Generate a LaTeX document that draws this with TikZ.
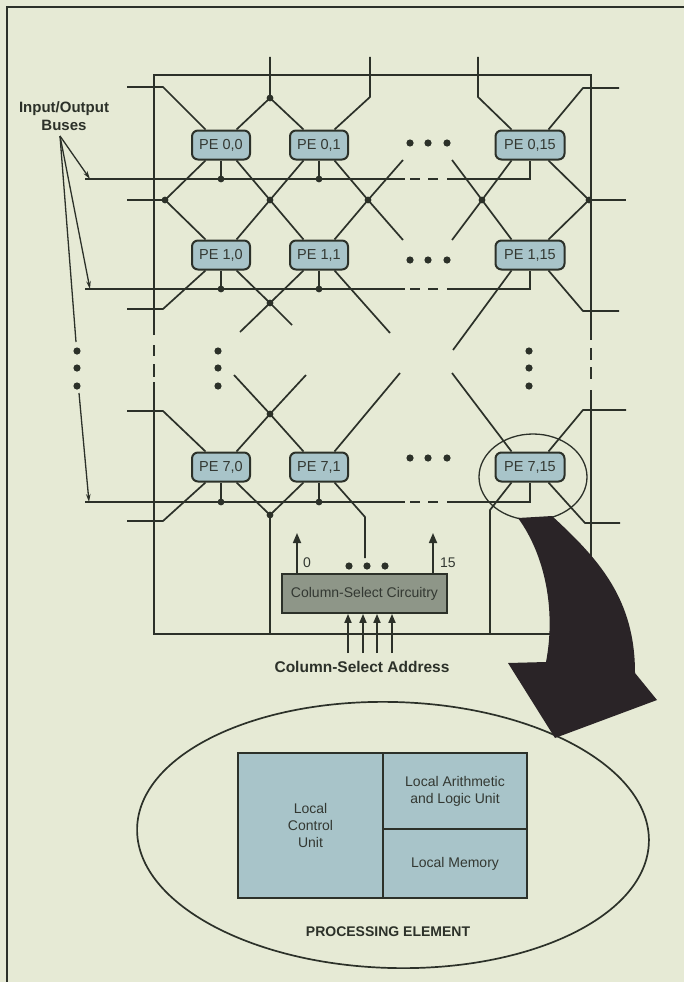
\documentclass[tikz,border=0pt]{standalone}
\usepackage{fontspec}
\setmainfont{Liberation Sans}
\usetikzlibrary{arrows.meta,calc,shapes.geometric}
\definecolor{bg}{HTML}{E6EAD5}
\definecolor{ink}{HTML}{2C3129}
\definecolor{txt}{HTML}{333832}
\definecolor{pefill}{HTML}{A8C4C9}
\definecolor{csfill}{HTML}{8E9688}
\definecolor{blk}{HTML}{2A2427}
\begin{document}
\begin{tikzpicture}[x=1pt,y=-1pt,
  wire/.style={draw=ink,line width=1.7pt},
  thinwire/.style={draw=ink,line width=1.3pt},
  pe/.style={draw=ink,line width=2pt,fill=pefill,rounded corners=6pt,minimum width=58pt,minimum height=29pt,inner sep=0pt,font=\fontsize{14.5}{17}\selectfont,text=txt},
  pewide/.style={pe,minimum width=69pt},
  box/.style={draw=ink,line width=1.8pt,fill=pefill,inner sep=0pt,align=center,font=\fontsize{14}{17}\selectfont,text=txt},
  lbl/.style={font=\fontsize{14}{16}\selectfont,text=txt,inner sep=0pt},
  blbl/.style={font=\bfseries\fontsize{15}{18}\selectfont,text=ink,inner sep=0pt,align=center},
  uparrow/.style={draw=ink,line width=1.7pt,-{Triangle[length=10pt,width=8pt]}},
  smallarrow/.style={draw=ink,line width=1.3pt,-{Stealth[length=8pt,width=4.5pt]}}
]
\useasboundingbox (0,0) rectangle (684,982);
\fill[bg] (0,0) rectangle (684,982);
% outer frame
\draw[ink,line width=1.6pt] (7,982) -- (7,7) -- (684,7);

% inner rectangle
\draw[wire] (154,335) -- (154,75) -- (591,75) -- (591,340);
\draw[wire] (154,382) -- (154,634) -- (591,634) -- (591,390);
\draw[wire] (154,345) -- (154,356);
\draw[wire] (154,364) -- (154,377);
\draw[wire] (591,348) -- (591,360);
\draw[wire] (591,367) -- (591,379);

% processing elements
\node[pe] (p00) at (221,145) {PE 0,0};
\node[pe] (p01) at (319,145) {PE 0,1};
\node[pewide] (p0f) at (530,145) {PE 0,15};
\node[pe] (p10) at (221,255) {PE 1,0};
\node[pe] (p11) at (319,255) {PE 1,1};
\node[pewide] (p1f) at (530,255) {PE 1,15};
\node[pe] (p70) at (221,467) {PE 7,0};
\node[pe] (p71) at (319,467) {PE 7,1};
\node[pewide] (p7f) at (530,467) {PE 7,15};

% ---- top edge
\coordinate (tA) at (270,57); \coordinate (t01) at (270,98);
\coordinate (tB) at (370,57); \coordinate (tBc) at (370,97);
\coordinate (tC) at (478,57); \coordinate (tCc) at (478,97);
\coordinate (inL0) at (127,87); \coordinate (inL0c) at (163,87);
\coordinate (outR0) at (619,88); \coordinate (outR0c) at (583,88);
\draw[wire] (tA) -- (t01) -- (p00.45);
\draw[wire] (t01) -- (p01.135);
\draw[wire] (tB) -- (tBc) -- (p01.45);
\draw[wire] (tC) -- (tCc) -- (p0f.140);
\draw[wire] (inL0) -- (inL0c) -- (p00.135);
\draw[wire] (outR0) -- (outR0c) -- (p0f.40);

% ---- between rows 0 and 1
\coordinate (jL1) at (165,200); \coordinate (inL1) at (127,200);
\draw[wire] (p00.-135) -- (jL1) -- (p10.135);
\draw[wire] (jL1) -- (inL1);
\coordinate (jA1) at (270,200);
\draw[wire] (p00.-45) -- (jA1) -- (p11.135);
\draw[wire] (p01.-135) -- (jA1) -- (p10.45);
\coordinate (jB1) at (368,200); \coordinate (b1a) at (403,160); \coordinate (b1b) at (403,240);
\draw[wire] (p01.-45) -- (jB1) -- (b1b);
\draw[wire] (b1a) -- (jB1) -- (p11.45);
\coordinate (jC1) at (482,200); \coordinate (c1a) at (452,160); \coordinate (c1b) at (452,240);
\draw[wire] (c1a) -- (jC1) -- (p1f.140);
\draw[wire] (p0f.-140) -- (jC1) -- (c1b);
\coordinate (jR1) at (589,200); \coordinate (outR1) at (626,200);
\draw[wire] (p0f.-40) -- (jR1) -- (p1f.40);
\draw[wire] (jR1) -- (outR1);

% ---- below row 1
\coordinate (inL2) at (127,309); \coordinate (inL2c) at (163,309);
\draw[wire] (p10.-135) -- (inL2c) -- (inL2);
\coordinate (jA2) at (270,303); \coordinate (a2a) at (292,325); \coordinate (a2b) at (240,332);
\draw[wire] (p10.-45) -- (jA2) -- (a2a);
\draw[wire] (p11.-135) -- (jA2) -- (a2b);
\coordinate (b2) at (390,333);
\draw[wire] (p11.-45) -- (b2);
\coordinate (c2) at (453,350);
\draw[wire] (p1f.-140) -- (c2);
\coordinate (outR2c) at (583,311); \coordinate (outR2) at (619,311);
\draw[wire] (p1f.-40) -- (outR2c) -- (outR2);

% ---- above row 7
\coordinate (inL6) at (127,411); \coordinate (inL6c) at (163,411);
\draw[wire] (inL6) -- (inL6c) -- (p70.135);
\coordinate (jA7) at (270,414); \coordinate (a7a) at (306,375); \coordinate (a7b) at (234,375);
\draw[wire] (a7a) -- (jA7) -- (p70.45);
\draw[wire] (a7b) -- (jA7) -- (p71.135);
\coordinate (b7) at (400,373);
\draw[wire] (b7) -- (p71.45);
\coordinate (c7) at (452,373);
\draw[wire] (c7) -- (p7f.140);
\coordinate (outR6) at (626,410); \coordinate (outR6c) at (583,410);
\draw[wire] (outR6) -- (outR6c) -- (p7f.40);

% ---- below row 7
\coordinate (inL8) at (127,521); \coordinate (inL8c) at (163,521);
\draw[wire] (p70.-135) -- (inL8c) -- (inL8);
\coordinate (jA8) at (270,515); \coordinate (a8) at (270,634);
\draw[wire] (p70.-45) -- (jA8) -- (p71.-135);
\draw[wire] (jA8) -- (a8);
\coordinate (b8c) at (365,517); \coordinate (b8) at (365,558);
\draw[wire] (p71.-45) -- (b8c) -- (b8);
\coordinate (c8c) at (490,510); \coordinate (c8) at (490,634);
\draw[wire] (p7f.-140) -- (c8c) -- (c8);
\coordinate (outR8c) at (585,523); \coordinate (outR8) at (620,523);
\draw[wire] (p7f.-40) -- (outR8c) -- (outR8);

% ---- buses
\foreach \r/\y in {0/179,1/289,7/502}{
  \coordinate (bus\r s) at (85,\y);
  \coordinate (bus\r a) at (405,\y);
  \coordinate (bus\r b) at (447,\y);
  \coordinate (bus\r c) at (530,\y);
  \draw[wire] (bus\r s) -- (bus\r a);
  \draw[wire] (410,\y) -- (420,\y);
  \draw[wire] (428,\y) -- (438,\y);
  \draw[wire] (bus\r b) -- (bus\r c) -- (p\r f.south);
  \draw[wire] (p\r 0.south) -- (p\r 0.south |- bus\r s);
  \draw[wire] (p\r 1.south) -- (p\r 1.south |- bus\r s);
  \fill[ink] (p\r 0.south |- bus\r s) circle (3.4pt);
  \fill[ink] (p\r 1.south |- bus\r s) circle (3.4pt);
}

% junction dots
\foreach \j in {t01,jL1,jA1,jB1,jC1,jR1,jA2,jA7,jA8}{
  \fill[ink] (\j) circle (3.4pt);
}

% ellipsis dots
\foreach \y in {143,260,458}{
  \foreach \x in {410,428,447}{ \fill[ink] (\x,\y) circle (3.6pt); }
}
\foreach \x in {77,218,529}{
  \foreach \y in {351,368,386}{ \fill[ink] (\x,\y) circle (3.6pt); }
}

% input/output buses label and arrows
\node[blbl] (iolab) at (64,116) {Input/Output\\Buses};
\coordinate (iob) at (60,136);
\coordinate (iom1) at (76,342); \coordinate (iom2) at (79,393);
\draw[smallarrow] (iob) -- ([xshift=5pt]bus0s);
\draw[smallarrow] (iob) -- ([xshift=5pt]bus1s);
\draw[thinwire] (iob) -- (iom1);
\draw[smallarrow] (iom2) -- ([xshift=4pt]bus7s);

% column select
\node[draw=ink,line width=1.8pt,fill=csfill,minimum width=165pt,minimum height=39pt,inner sep=0pt,font=\fontsize{14}{16}\selectfont,text=txt] (cs) at (364.5,593.5) {Column-Select Circuitry};
\coordinate (o0) at (297,533);
\coordinate (o15) at (433,533);
\draw[uparrow] (o0 |- cs.north) -- (o0);
\draw[uparrow] (o15 |- cs.north) -- (o15);
\node[lbl,anchor=west] (l0) at (303,563) {0};
\node[lbl,anchor=west] (l15) at (440,563) {15};
\foreach \x in {349,367,385}{ \fill[ink] (\x,566) circle (3.6pt); }
\foreach \x [count=\i] in {348,363,377,392}{
  \coordinate (ad\i) at (\x,653);
  \draw[draw=ink,line width=1.7pt,-{Triangle[length=9pt,width=7pt]}] (ad\i) -- (ad\i |- cs.south);
}
\node[font=\bfseries\fontsize{15.5}{18}\selectfont,text=ink,inner sep=0pt] (csa) at (362,667) {Column-Select Address};

% magnifier ring
\node[ellipse,draw=ink,line width=1.3pt,minimum width=108pt,minimum height=86pt,inner sep=0pt] (ring) at (533,477) {};

% processing element detail
\node[ellipse,draw=ink,line width=1.7pt,minimum width=512pt,minimum height=266pt,inner sep=0pt,rotate=-1.6] (pering) at (393,835) {};
\node[box,minimum width=145pt,minimum height=145pt] (lcu) at (310.5,825.5) {Local\\Control\\Unit};
\node[box,minimum width=144pt,minimum height=76pt] (alu) at (455,791) {Local Arithmetic\\and Logic Unit};
\node[box,minimum width=144pt,minimum height=69pt] (mem) at (455,863.5) {Local Memory};
\node[font=\bfseries\fontsize{14}{16}\selectfont,text=ink,inner sep=0pt] (pel) at (388,932) {PROCESSING ELEMENT};

% big arrow
\fill[blk] (518,518) -- (552,516) .. controls (600,560) and (635,600) .. (635,673)
  -- (657,700) -- (555,738) -- (508,663) -- (546,662)
  .. controls (556,610) and (545,555) .. (518,518) -- cycle;
\end{tikzpicture}
\end{document}
